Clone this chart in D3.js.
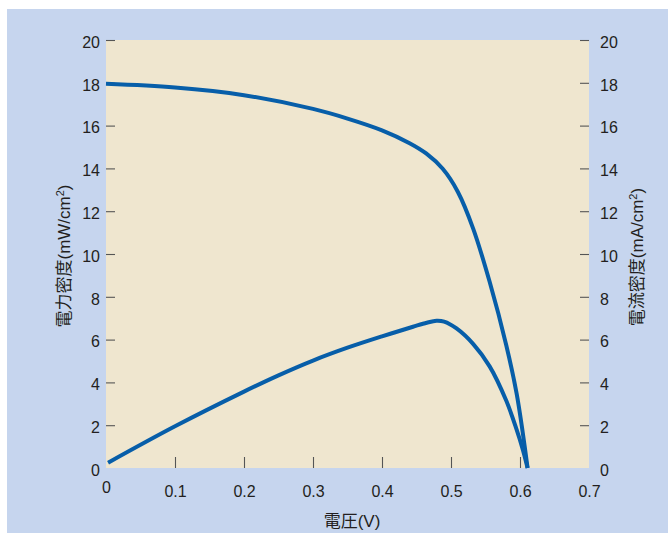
<!DOCTYPE html>
<html>
<head>
<meta charset="utf-8">
<script src="https://cdn.jsdelivr.net/npm/d3@7"></script>
<style>
  body { margin: 0; background: #fff; }
  text { font-family: "Liberation Sans", Arial, "Noto Sans CJK JP", sans-serif; }
</style>
</head>
<body>
<div id="chart"></div>
<script>
// values
const xTicks = [0, 0.1, 0.2, 0.3, 0.4, 0.5, 0.6, 0.7]
const yTicks = [0, 2, 4, 6, 8, 10, 12, 14, 16, 18, 20]

// current density curve (mA/cm2)
const currentV = [0, 0.1, 0.2, 0.3, 0.35, 0.4, 0.44, 0.464, 0.488, 0.51, 0.532, 0.556, 0.58, 0.595, 0.604, 0.611]
const currentJ = [17.95, 17.78, 17.42, 16.78, 16.33, 15.78, 15.18, 14.7, 13.98, 12.9, 11.2, 8.7, 5.75, 3.5, 1.65, 0]

// power density curve (mW/cm2)
const powerV = [0.003, 0.1, 0.2, 0.25, 0.3, 0.35, 0.4, 0.445, 0.465, 0.479, 0.49, 0.508, 0.532, 0.556, 0.58, 0.595, 0.604, 0.611]
const powerP = [0.25, 1.95, 3.57, 4.33, 5.02, 5.62, 6.15, 6.6, 6.79, 6.88, 6.84, 6.52, 5.8, 4.75, 3.15, 1.8, 0.87, 0]

const W = 668, H = 533
const plot = {left: 106, right: 589, top: 40, bottom: 468}
const ink = "#231f20"
const lineColor = "#075ea9"

const svg = d3.select("#chart")
    .append("svg")
    .attr("width", W)
    .attr("height", H)

// outer panel and plot area
svg.append("rect")
    .attr("x", 7).attr("y", 9)
    .attr("width", W - 7).attr("height", H - 9)
    .attr("fill", "#c6d5ee")
svg.append("rect")
    .attr("x", plot.left).attr("y", plot.top)
    .attr("width", plot.right - plot.left).attr("height", plot.bottom - plot.top)
    .attr("fill", "#efe6cf")

const x = d3.scaleLinear().domain([0, 0.7]).range([plot.left, plot.right])
const y = d3.scaleLinear().domain([0, 20]).range([plot.bottom, plot.top])

function styleAxis(g, hideAt) {
    g.select(".domain").remove()
    g.selectAll(".tick line")
        .attr("stroke", "#555")
        .attr("stroke-width", 1.1)
        .attr("opacity", d => hideAt.includes(d) ? 0 : 1)
    g.selectAll(".tick text")
        .attr("fill", ink)
        .style("font-size", "16px")
}

// x axis, ticks pointing inward
svg.append("g")
    .attr("transform", `translate(0, ${plot.bottom})`)
    .call(d3.axisBottom(x).tickValues(xTicks).tickSize(-11).tickPadding(18)
        .tickFormat(d => d === 0 ? "0" : d3.format(".1f")(d)))
    .call(g => styleAxis(g, [0, 0.7]))
    .call(g => g.selectAll(".tick text").filter(d => d === 0).attr("y", 14))

// left axis
svg.append("g")
    .attr("transform", `translate(${plot.left}, 0)`)
    .call(d3.axisLeft(y).tickValues(yTicks).tickSize(-9).tickPadding(6))
    .call(g => styleAxis(g, [0]))
    .call(g => g.selectAll(".tick text").attr("dy", "0.45em"))

// right axis
svg.append("g")
    .attr("transform", `translate(${plot.right}, 0)`)
    .call(d3.axisRight(y).tickValues(yTicks).tickSize(-9).tickPadding(11))
    .call(g => styleAxis(g, [0]))
    .call(g => g.selectAll(".tick text").attr("dy", "0.45em"))

// axis titles
svg.append("text")
    .attr("x", 352).attr("y", 527)
    .attr("text-anchor", "middle")
    .attr("fill", ink)
    .style("font-size", "17px")
    .text("電圧(V)")

svg.append("text")
    .attr("transform", `translate(70, 256) rotate(-90)`)
    .attr("text-anchor", "middle")
    .attr("fill", ink)
    .style("font-size", "17px")
    .html("電力密度(mW/cm<tspan dy='-6' font-size='11px'>2</tspan><tspan dy='6'>)</tspan>")

svg.append("text")
    .attr("transform", `translate(643, 257) rotate(-90)`)
    .attr("text-anchor", "middle")
    .attr("fill", ink)
    .style("font-size", "17px")
    .html("電流密度(mA/cm<tspan dy='-6' font-size='11px'>2</tspan><tspan dy='6'>)</tspan>")

// curves
const line = d3.line()
    .x(d => x(d[0]))
    .y(d => y(d[1]))
    .curve(d3.curveCatmullRom.alpha(0.5))

svg.append("path")
    .datum(d3.zip(currentV, currentJ))
    .attr("d", line)
    .attr("fill", "none")
    .attr("stroke", lineColor)
    .attr("stroke-width", 4)

svg.append("path")
    .datum(d3.zip(powerV, powerP))
    .attr("d", line)
    .attr("fill", "none")
    .attr("stroke", lineColor)
    .attr("stroke-width", 4)
</script>
</body>
</html>
